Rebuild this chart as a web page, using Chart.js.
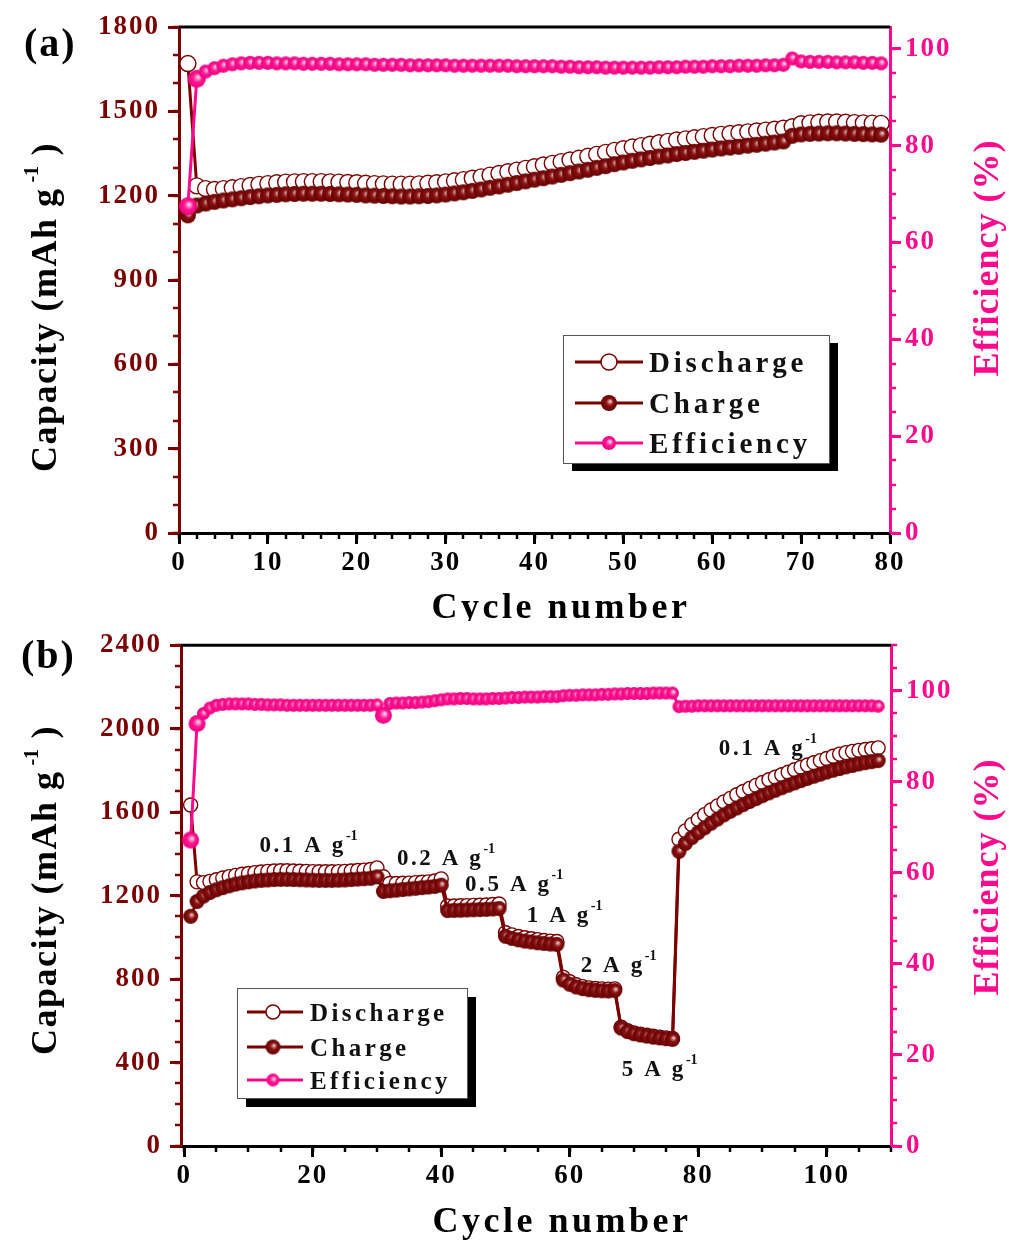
<!DOCTYPE html>
<html>
<head>
<meta charset="utf-8">
<title>Cycling performance</title>
<script src="https://cdn.jsdelivr.net/npm/chart.js@4.4.1/dist/chart.umd.min.js"></script>
<style>
  html, body { margin: 0; padding: 0; background: #fff; }
  canvas { display: block; }
</style>
</head>
<body>
<canvas id="panelA" width="1009" height="621"></canvas>
<canvas id="panelB" width="1009" height="621"></canvas>
<script>
// ---------- Panel (a): long cycling ----------
const cyclesA = Array.from({ length: 79 }, (_, i) => i + 1);
const dischargeA = [
  1670, 1235, 1225, 1222, 1225, 1228, 1232, 1236, 1240, 1243,
  1246, 1248, 1249, 1250, 1250, 1250, 1249, 1248, 1247, 1246,
  1244, 1243, 1242, 1241, 1241, 1241, 1242, 1244, 1246, 1249,
  1253, 1257, 1262, 1267, 1273, 1279, 1285, 1291, 1297, 1303,
  1309, 1315, 1321, 1327, 1333, 1340, 1347, 1354, 1361, 1367,
  1373, 1378, 1383, 1388, 1393, 1398, 1402, 1406, 1410, 1414,
  1418, 1421, 1424, 1427, 1430, 1433, 1436, 1440, 1445,
  1456, 1459, 1461, 1462, 1462, 1461, 1460, 1459, 1458, 1457
];
const chargeA = [
  1130, 1165, 1172, 1178, 1183, 1187, 1191, 1195, 1198, 1201,
  1203, 1205, 1206, 1207, 1207, 1207, 1206, 1205, 1204, 1203,
  1201, 1200, 1199, 1198, 1197, 1197, 1198, 1199, 1201, 1204,
  1208, 1212, 1217, 1222, 1228, 1233, 1239, 1245, 1251, 1257,
  1262, 1268, 1274, 1280, 1286, 1292, 1299, 1305, 1312, 1318,
  1324, 1329, 1334, 1339, 1343, 1348, 1352, 1356, 1360, 1364,
  1368, 1371, 1374, 1378, 1381, 1385, 1389, 1393, 1413,
  1418, 1420, 1421, 1422, 1422, 1421, 1420, 1419, 1418, 1417
];
const efficiencyA = [
  67.5, 93.8, 95.3, 96.0, 96.5, 96.8, 97.0, 97.1, 97.1, 97.1,
  97.0, 97.0, 97.0, 96.9, 96.9, 96.9, 96.9, 96.8, 96.8, 96.8,
  96.8, 96.7, 96.7, 96.7, 96.7, 96.6, 96.6, 96.6, 96.6, 96.6,
  96.5, 96.5, 96.5, 96.5, 96.5, 96.5, 96.5, 96.4, 96.4, 96.4,
  96.4, 96.4, 96.3, 96.3, 96.2, 96.2, 96.2, 96.1, 96.1, 96.1,
  96.1, 96.1, 96.1, 96.2, 96.2, 96.2, 96.3, 96.3, 96.3, 96.4,
  96.4, 96.4, 96.5, 96.5, 96.5, 96.6, 96.6, 96.7, 98.0,
  97.4, 97.3, 97.3, 97.3, 97.2, 97.2, 97.2, 97.1, 97.1, 97.0
];
const xTicksA = [0, 10, 20, 30, 40, 50, 60, 70, 80];
const capTicksA = [0, 300, 600, 900, 1200, 1500, 1800];
const effTicksA = [0, 20, 40, 60, 80, 100];

// ---------- Panel (b): rate capability ----------
const cyclesB = Array.from({ length: 108 }, (_, i) => i + 1);
const dischargeB = [
  1634, 1266, 1262, 1268, 1276, 1284, 1291, 1297, 1302, 1306,
  1310, 1313, 1316, 1318, 1319, 1319, 1318, 1317, 1316, 1315,
  1314, 1314, 1314, 1315, 1316, 1318, 1320, 1322, 1325, 1333,
  1290, 1258, 1258, 1259, 1260, 1262, 1264, 1266, 1270, 1280,
  1150, 1150, 1151, 1152, 1153, 1154, 1155, 1157, 1160,
  1022, 1012, 1004, 998, 993, 989, 985, 982, 980,
  808, 787, 773, 764, 758, 755, 753, 752, 753,
  569, 552, 542, 536, 531, 526, 522, 518, 515,
  1470, 1510, 1540, 1564, 1588, 1610, 1630, 1649, 1666, 1683,
  1699, 1714, 1728, 1742, 1755, 1767, 1779, 1791, 1803, 1815,
  1826, 1837, 1847, 1857, 1868, 1878, 1885, 1891, 1896, 1900,
  1904, 1908
];
const chargeB = [
  1101, 1172, 1198, 1215, 1228, 1238, 1247, 1255, 1261, 1266,
  1270, 1273, 1275, 1277, 1278, 1278, 1277, 1276, 1275, 1274,
  1273, 1273, 1273, 1274, 1275, 1277, 1279, 1281, 1283, 1290,
  1220, 1223, 1226, 1229, 1232, 1235, 1238, 1241, 1244, 1250,
  1128, 1129, 1130, 1131, 1132, 1133, 1134, 1136, 1138,
  1005, 995, 988, 982, 978, 974, 971, 968, 966,
  795, 775, 762, 754, 749, 746, 744, 743, 745,
  565, 548, 538, 532, 527, 522, 518, 514, 511,
  1412, 1450, 1478, 1502, 1525, 1547, 1567, 1587, 1604, 1620,
  1636, 1651, 1665, 1679, 1692, 1705, 1717, 1729, 1740, 1751,
  1762, 1772, 1782, 1792, 1801, 1809, 1817, 1824, 1831, 1837,
  1842, 1847
];
const efficiencyB = [
  67.2, 92.8, 95.0, 96.2, 96.8, 97.0, 97.1, 97.1, 97.1, 97.1,
  97.0, 97.0, 96.9, 96.9, 96.9, 96.8, 96.8, 96.8, 96.8, 96.8,
  96.8, 96.8, 96.8, 96.8, 96.8, 96.8, 96.8, 96.8, 96.8, 96.9,
  94.6, 97.2, 97.3, 97.3, 97.4, 97.4, 97.5, 97.6, 97.8, 98.0,
  98.2, 98.2, 98.3, 98.3, 98.2, 98.2, 98.2, 98.3, 98.3,
  98.4, 98.5, 98.5, 98.6, 98.6, 98.6, 98.7, 98.7, 98.7,
  98.9, 99.0, 99.0, 99.1, 99.1, 99.1, 99.2, 99.2, 99.3,
  99.3, 99.4, 99.4, 99.4, 99.4, 99.5, 99.5, 99.5, 99.5,
  96.5, 96.6, 96.6, 96.7, 96.7, 96.7, 96.7, 96.7, 96.7, 96.7,
  96.7, 96.7, 96.7, 96.7, 96.7, 96.7, 96.7, 96.7, 96.7, 96.7,
  96.7, 96.7, 96.7, 96.7, 96.7, 96.7, 96.7, 96.7, 96.7, 96.7,
  96.7, 96.6
];
const xTicksB = [0, 20, 40, 60, 80, 100];
const capTicksB = [0, 400, 800, 1200, 1600, 2000, 2400];
const effTicksB = [0, 20, 40, 60, 80, 100];

// current-density labels and their anchor (cycle, capacity) in panel (b)
const rateLabels = ['0.1', '0.2', '0.5', '1', '2', '5', '0.1'];
const rateAnchors = [[11.7, 1408], [33.1, 1346], [43.7, 1224], [53.3, 1072], [61.7, 836], [68.1, 335], [83.2, 1875]];

// ---------- styling ----------
const FONT = "'Liberation Serif', 'DejaVu Serif', serif";
const DARK_RED = '#7b0000';
const PINK = '#ff0a8c';

function makeBall(d, stops) {
  const size = Math.ceil(d) + 2;
  const c = document.createElement('canvas');
  c.width = c.height = size;
  const g = c.getContext('2d');
  const r = d / 2, cx = size / 2, cy = size / 2;
  const grad = g.createRadialGradient(cx + r * 0.18, cy - r * 0.22, 0, cx, cy, r);
  stops.forEach(([o, col]) => grad.addColorStop(o, col));
  g.fillStyle = grad;
  g.beginPath(); g.arc(cx, cy, r, 0, Math.PI * 2); g.fill();
  return c;
}
const CHARGE_STOPS = [[0, '#f8e4e4'], [0.18, '#c88888'], [0.45, '#8c1212'], [1, '#620000']];
const EFF_STOPS = [[0, '#ffeef7'], [0.2, '#ff9acd'], [0.5, '#ff1893'], [1, '#ee0080']];

function fontStr(size) { return `bold ${size}px ${FONT}`; }

// draw a run of text pieces (normal + superscript) starting at x on baseline y
function richText(ctx, parts, x, y, measureOnly) {
  let cx = x;
  for (const p of parts) {
    ctx.font = fontStr(p.size);
    ctx.letterSpacing = (p.ls || 0) + 'px';
    if (!measureOnly) ctx.fillText(p.t, cx, y + (p.dy || 0));
    cx += ctx.measureText(p.t).width;
  }
  return cx - x;
}
function richCentered(ctx, parts, cx, y) {
  const w = richText(ctx, parts, 0, 0, true);
  richText(ctx, parts, cx - w / 2, y, false);
}

function drawMinorTicks(chart, id, step, len, color) {
  const s = chart.scales[id], a = chart.chartArea, ctx = chart.ctx;
  ctx.save();
  ctx.strokeStyle = color; ctx.lineWidth = 2.5;
  for (let v = Math.ceil(s.min / step) * step; v <= s.max + 1e-9; v += step) {
    const p = Math.round(s.getPixelForValue(v));
    ctx.beginPath();
    if (s.axis === 'x') { ctx.moveTo(p, a.bottom); ctx.lineTo(p, a.bottom + len); }
    else if (s.position === 'left') { ctx.moveTo(a.left, p); ctx.lineTo(a.left - len, p); }
    else { ctx.moveTo(a.right, p); ctx.lineTo(a.right + len, p); }
    ctx.stroke();
  }
  ctx.restore();
}

function drawLegend(ctx, L, datasets, balls) {
  ctx.save();
  ctx.fillStyle = '#000';
  ctx.fillRect(L.x + L.sx, L.y + L.sy, L.w, L.h);
  ctx.fillStyle = '#fff';
  ctx.fillRect(L.x, L.y, L.w, L.h);
  ctx.strokeStyle = '#555'; ctx.lineWidth = 1;
  ctx.strokeRect(L.x + 0.5, L.y + 0.5, L.w, L.h);
  datasets.forEach((ds, i) => {
    const y = L.y + L.rows[i];
    ctx.strokeStyle = ds.borderColor; ctx.lineWidth = 3;
    ctx.beginPath(); ctx.moveTo(L.x + L.lx0, y); ctx.lineTo(L.x + L.lx1, y); ctx.stroke();
    const mx = L.x + L.mx;
    if (i === 0) {
      ctx.fillStyle = '#fff'; ctx.strokeStyle = DARK_RED; ctx.lineWidth = 1.5;
      ctx.beginPath(); ctx.arc(mx, y, L.r, 0, Math.PI * 2); ctx.fill(); ctx.stroke();
    } else {
      const b = balls[i - 1];
      ctx.drawImage(b, mx - b.width / 2, y - b.height / 2);
    }
    ctx.fillStyle = '#111';
    richText(ctx, [{ t: ds.label, size: L.font, ls: L.ls }], L.x + L.tx, y + L.base);
  });
  ctx.restore();
}

function makeDeco(p) {
  return {
    id: 'deco',
    beforeDraw(chart) { chart.ctx.letterSpacing = '2px'; },
    afterDraw(chart) {
      const ctx = chart.ctx, a = chart.chartArea;
      ctx.save();
      // frame top edge
      ctx.strokeStyle = '#000'; ctx.lineWidth = 3;
      ctx.beginPath(); ctx.moveTo(a.left, a.top); ctx.lineTo(a.right, a.top); ctx.stroke();
      // minor tick marks
      drawMinorTicks(chart, 'x', p.minorX, 6, '#000');
      drawMinorTicks(chart, 'yL', p.minorL, 6, DARK_RED);
      drawMinorTicks(chart, 'yR', 5, 6, PINK);

      ctx.textAlign = 'left'; ctx.textBaseline = 'alphabetic';
      // panel letter
      ctx.fillStyle = '#000';
      richText(ctx, [{ t: p.letter, size: 40, ls: 2 }], p.letterPos[0], p.letterPos[1]);
      // x title
      richCentered(ctx, [{ t: 'Cycle number', size: 36, ls: 3.5 }], p.xTitle[0], p.xTitle[1]);
      // left title
      ctx.save();
      ctx.translate(p.yTitle[0], p.yTitle[1]); ctx.rotate(-Math.PI / 2);
      richCentered(ctx, [
        { t: 'Capacity (mAh g', size: 36, ls: 1.5 },
        { t: ' -1', size: 20, dy: -18 },
        { t: ' )', size: 36, ls: 1.5 }
      ], 0, 0);
      ctx.restore();
      // right title
      ctx.save();
      ctx.fillStyle = PINK;
      ctx.translate(p.yRTitle[0], p.yRTitle[1]); ctx.rotate(-Math.PI / 2);
      richCentered(ctx, [{ t: 'Efficiency (%)', size: 36, ls: 1 }], 0, 0);
      ctx.restore();
      // current density labels
      if (p.rates) {
        ctx.fillStyle = '#111';
        p.rates.labels.forEach((txt, i) => {
          const [cx, cy] = p.rates.anchors[i];
          const px = chart.scales.x.getPixelForValue(cx);
          const py = chart.scales.yL.getPixelForValue(cy);
          richText(ctx, [
            { t: txt + ' A g', size: 23, ls: 2.6 },
            { t: '-1', size: 14, dy: -12 }
          ], px, py);
        });
      }
      drawLegend(ctx, p.legend, chart.data.datasets, [p.chargeBall, p.effBall]);
      ctx.restore();
    }
  };
}

function buildPanel(canvasId, p) {
  const toXY = (xs, ys) => xs.map((x, i) => ({ x, y: ys[i] }));
  const tickFont = { family: FONT, size: 27, weight: 'bold' };
  const setTicks = list => scale => { scale.ticks = list.map(v => ({ value: v })); };
  return new Chart(document.getElementById(canvasId), {
    type: 'line',
    data: {
      datasets: [
        {
          label: 'Discharge', data: toXY(p.cycles, p.discharge), yAxisID: 'yL', order: 3,
          borderColor: DARK_RED, borderWidth: 3, pointStyle: 'circle', pointRadius: p.r,
          pointBackgroundColor: '#fff', pointBorderColor: DARK_RED, pointBorderWidth: 1.4, clip: false
        },
        {
          label: 'Charge', data: toXY(p.cycles, p.charge), yAxisID: 'yL', order: 2,
          borderColor: DARK_RED, borderWidth: 3, pointRadius: p.r,
          pointStyle: p.chargeBall, clip: false
        },
        {
          label: 'Efficiency', data: toXY(p.cycles, p.efficiency), yAxisID: 'yR', order: 1,
          borderColor: PINK, borderWidth: 3, pointRadius: p.r,
          pointStyle: ctx => (p.bigEff.includes(ctx.dataIndex) ? p.effBig : p.effBall), clip: false
        }
      ]
    },
    options: {
      responsive: false, animation: false, devicePixelRatio: 1,
      layout: { padding: { top: p.padTop, left: 0, right: 0, bottom: 0 } },
      plugins: { legend: { display: false }, tooltip: { enabled: false } },
      scales: {
        x: {
          type: 'linear', min: p.xMin, max: p.xMax,
          afterBuildTicks: setTicks(p.xTicks),
          afterFit: s => { s.height = p.xAxisH; },
          ticks: { color: '#000', font: tickFont, padding: 3, maxRotation: 0, autoSkip: false, callback: v => String(v) },
          grid: { drawOnChartArea: false, drawTicks: true, tickLength: 11, tickWidth: 3, tickColor: '#000' },
          border: { display: true, color: '#000', width: 3 }
        },
        yL: {
          type: 'linear', position: 'left', min: 0, max: p.capMax,
          afterBuildTicks: setTicks(p.capTicks),
          afterFit: s => { s.width = p.leftW; },
          ticks: { color: DARK_RED, font: tickFont, padding: 8, autoSkip: false, callback: v => String(v) },
          grid: { drawOnChartArea: false, drawTicks: true, tickLength: 11, tickWidth: 3, tickColor: DARK_RED },
          border: { display: true, color: DARK_RED, width: 3 }
        },
        yR: {
          type: 'linear', position: 'right', min: 0, max: p.effMax,
          afterBuildTicks: setTicks(p.effTicks),
          afterFit: s => { s.width = p.rightW; },
          ticks: { color: PINK, font: tickFont, padding: 4, autoSkip: false, callback: v => String(v) },
          grid: { drawOnChartArea: false, drawTicks: true, tickLength: 11, tickWidth: 3, tickColor: PINK },
          border: { display: true, color: PINK, width: 3 }
        }
      }
    },
    plugins: [makeDeco(p)]
  });
}

buildPanel('panelA', {
  cycles: cyclesA, discharge: dischargeA, charge: chargeA, efficiency: efficiencyA,
  xTicks: xTicksA, capTicks: capTicksA, effTicks: effTicksA,
  xMin: 0, xMax: 80, capMax: 1800, effMax: 104.5,
  minorX: 2, minorL: 100,
  padTop: 27, leftW: 179, rightW: 119, xAxisH: 88,
  r: 8,
  chargeBall: makeBall(16, CHARGE_STOPS), effBall: makeBall(14, EFF_STOPS), effBig: makeBall(18, EFF_STOPS),
  bigEff: [0, 1],
  letter: '(a)', letterPos: [24, 56],
  xTitle: [561, 618], yTitle: [56, 307], yRTitle: [998, 258],
  legend: { x: 563, y: 335, w: 266, h: 128, sx: 9, sy: 8, rows: [27, 68, 108],
            lx0: 12, lx1: 80, mx: 46, tx: 86, r: 8, font: 29, ls: 3.8, base: 10 }
});

buildPanel('panelB', {
  cycles: cyclesB, discharge: dischargeB, charge: chargeB, efficiency: efficiencyB,
  xTicks: xTicksB, capTicks: capTicksB, effTicks: effTicksB,
  xMin: -0.5, xMax: 110, capMax: 2400, effMax: 110,
  minorX: 5, minorL: 100,
  padTop: 17, leftW: 181, rightW: 118, xAxisH: 96,
  r: 7,
  chargeBall: makeBall(15, CHARGE_STOPS), effBall: makeBall(13, EFF_STOPS), effBig: makeBall(17, EFF_STOPS),
  bigEff: [0, 1, 30],
  letter: '(b)', letterPos: [21, 47],
  xTitle: [562, 611], yTitle: [56, 269], yRTitle: [998, 256],
  rates: { labels: rateLabels, anchors: rateAnchors },
  legend: { x: 237, y: 367, w: 230, h: 110, sx: 9, sy: 9, rows: [24, 59, 92],
            lx0: 10, lx1: 66, mx: 36, tx: 73, r: 7, font: 25, ls: 3.4, base: 9 }
});
</script>
</body>
</html>
